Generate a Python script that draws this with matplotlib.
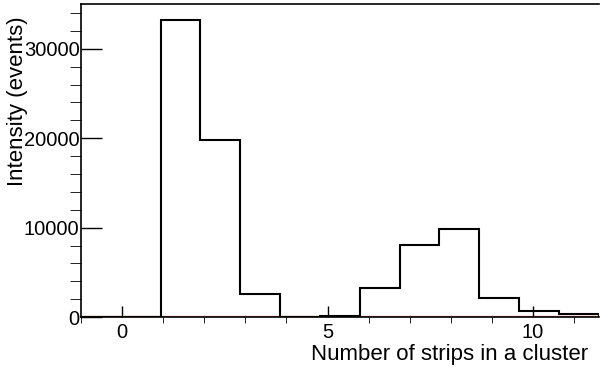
import numpy as np
import matplotlib.pyplot as plt
from matplotlib.ticker import MultipleLocator

# histogram: 13 bins from -1 to 11.6
x_lo, x_hi, n_bins = -1.0, 11.6, 13
counts = [0, 0, 33200, 19800, 2600, 0, 100, 3300, 8050, 9900, 2100, 700, 300]

plt.rcParams["font.family"] = ["Liberation Sans", "DejaVu Sans"]

fig = plt.figure(figsize=(6, 3.74), dpi=100)
ax = fig.add_axes([0.135, 0.152, 0.863, 0.837])

edges = np.linspace(x_lo, x_hi, n_bins + 1)
ax.axhline(180, color="#f08080", lw=1.0, zorder=1)
ax.stairs(counts, edges, color="black", lw=1.5, zorder=2)

ax.set_xlim(x_lo, x_hi)
ax.set_ylim(0, 35000)
ax.xaxis.set_major_locator(MultipleLocator(5))
ax.xaxis.set_minor_locator(MultipleLocator(1))
ax.yaxis.set_major_locator(MultipleLocator(10000))
ax.yaxis.set_minor_locator(MultipleLocator(2000))
ax.tick_params(direction="in", labelsize=14.5, width=1)
ax.tick_params(axis="x", which="major", length=8, pad=4)
ax.tick_params(axis="x", which="minor", length=4)
ax.tick_params(axis="y", which="major", length=15, pad=1)
ax.tick_params(axis="y", which="minor", length=8)
ax.spines["right"].set_visible(False)
for s in ("left", "top", "bottom"):
    ax.spines[s].set_linewidth(1.2)

ax.set_xlabel("Number of strips in a cluster", fontsize=16, ha="right", x=0.98, labelpad=2)
ax.set_ylabel("Intensity (events)", fontsize=16, ha="right", y=0.96, labelpad=-3)

fig.savefig("out.png", dpi=100)
